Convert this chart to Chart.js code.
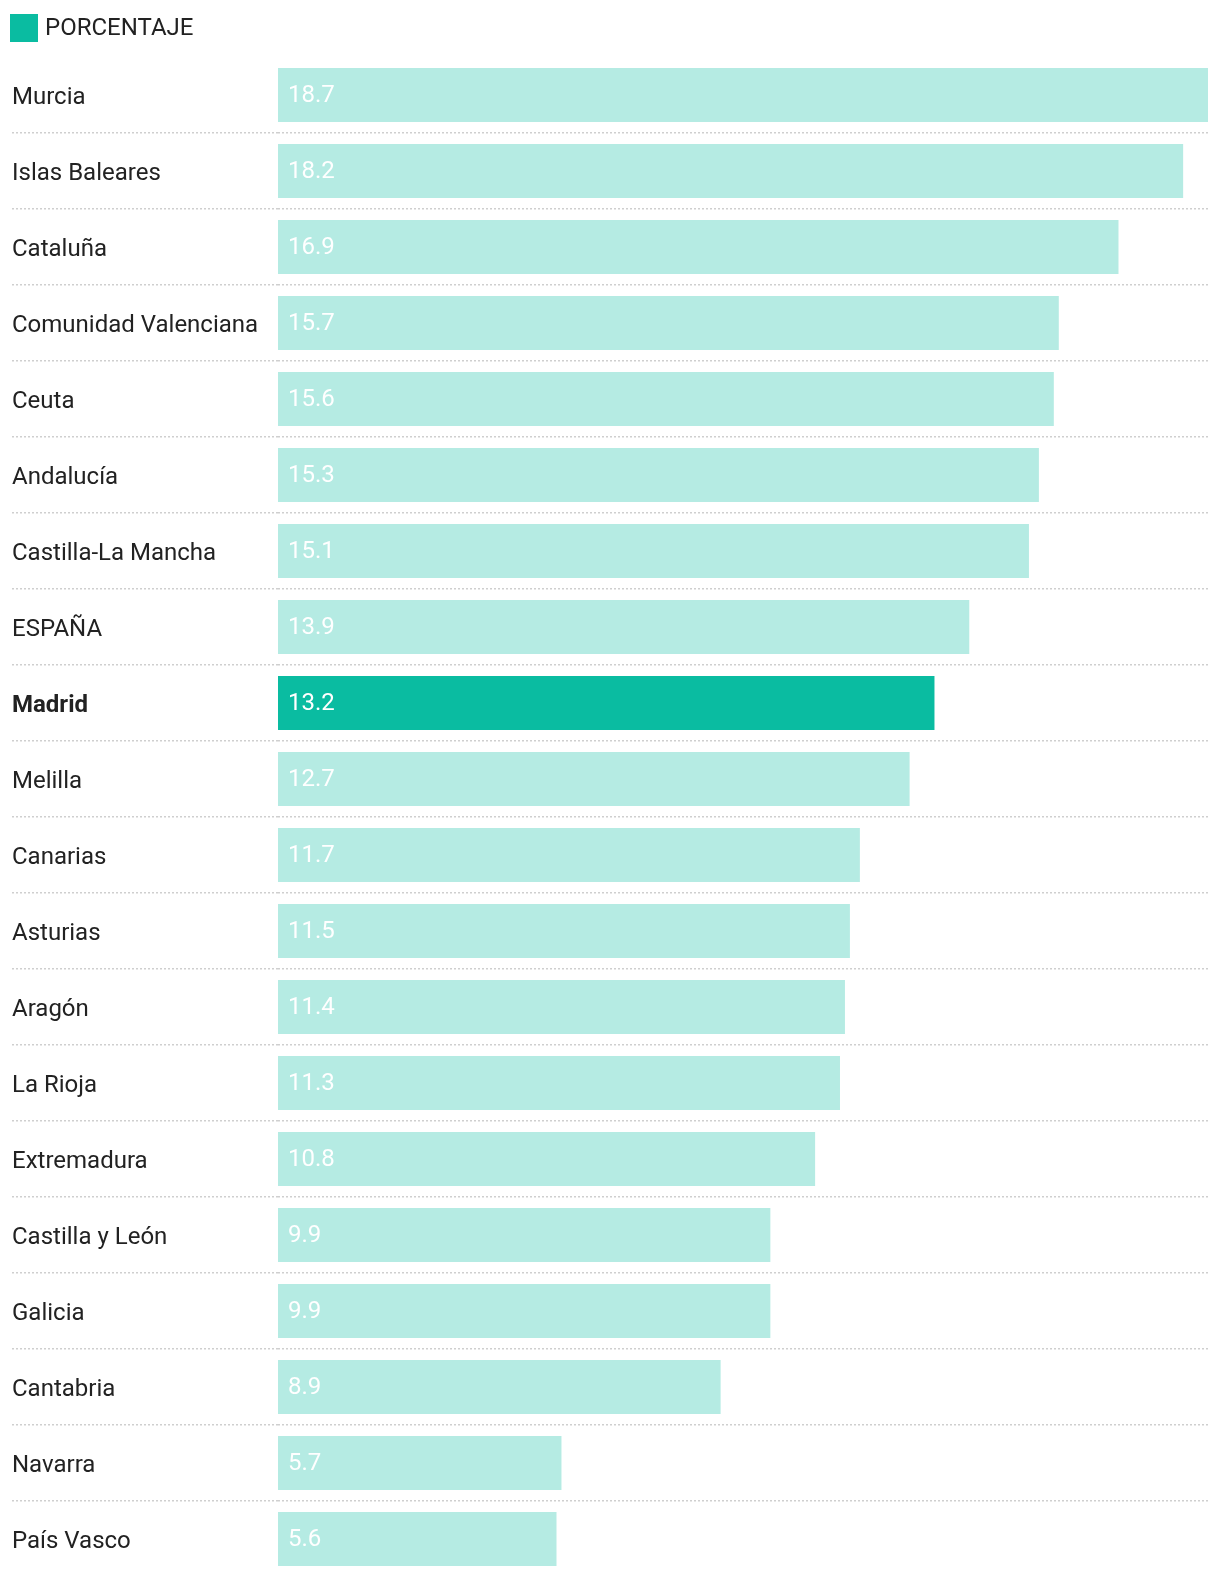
<!DOCTYPE html>
<html>
<head>
<meta charset="utf-8">
<script src="https://cdn.jsdelivr.net/npm/chart.js@4.4.1/dist/chart.umd.min.js"></script>
<style>
    body { margin: 0; background: #fff; }
    #wrap { width: 1220px; height: 1578px; position: relative; }
</style>
</head>
<body>
<div id="wrap"><canvas id="chartPorcentaje"></canvas></div>
<script>
let regiones = ['Murcia', 'Islas Baleares', 'Cataluña', 'Comunidad Valenciana', 'Ceuta', 'Andalucía',
    'Castilla-La Mancha', 'ESPAÑA', 'Madrid', 'Melilla', 'Canarias', 'Asturias', 'Aragón', 'La Rioja',
    'Extremadura', 'Castilla y León', 'Galicia', 'Cantabria', 'Navarra', 'País Vasco'];
let porcentaje = [18.7, 18.2, 16.9, 15.7, 15.6, 15.3, 15.1, 13.9, 13.2, 12.7, 11.7, 11.5, 11.4, 11.3,
    10.8, 9.9, 9.9, 8.9, 5.7, 5.6];
let destacada = 'Madrid';
let nombreSerie = 'PORCENTAJE';

let verde = 'rgb(10, 188, 161)';
let verdeClaro = 'rgba(10, 188, 161, 0.3)';
let fuente = 'Roboto';
let gris = '#cfcfcf';

// valores dentro de cada barra
let etiquetasValor = {
    id: 'etiquetasValor',
    afterDatasetsDraw(chart) {
        let ctx = chart.ctx;
        let meta = chart.getDatasetMeta(0);
        ctx.save();
        ctx.font = '24px ' + fuente;
        ctx.fillStyle = '#fff';
        ctx.textAlign = 'left';
        ctx.textBaseline = 'middle';
        meta.data.forEach((bar, i) => {
            let v = chart.data.datasets[0].data[i];
            ctx.fillText(v.toFixed(1), bar.base + 10, bar.y + 1);
        });
        ctx.restore();
    }
};

// leyenda arriba a la izquierda
let leyenda = {
    id: 'leyenda',
    afterDraw(chart) {
        let ctx = chart.ctx;
        ctx.save();
        ctx.fillStyle = verde;
        ctx.fillRect(10, 14, 28, 28);
        ctx.fillStyle = '#222';
        ctx.font = '24px ' + fuente;
        ctx.textAlign = 'left';
        ctx.textBaseline = 'middle';
        ctx.fillText(nombreSerie, 45, 29);
        ctx.restore();
    }
};

let contextPorcentaje = document.querySelector('#chartPorcentaje').getContext('2d');

// sin linea arriba del todo ni abajo del todo
let ocultarBordes = (c) => (c.index === undefined || c.index == 0 || c.index >= regiones.length) ? 'rgba(0,0,0,0)' : gris;

let config = {
    type: 'bar',
    data: {
        labels: regiones,
        datasets: [{
            label: nombreSerie,
            data: porcentaje,
            backgroundColor: regiones.map(r => r == destacada ? verde : verdeClaro),
            categoryPercentage: 1,
            barPercentage: 54 / 76
        }]
    },
    options: {
        indexAxis: 'y',
        responsive: true,
        maintainAspectRatio: false,
        animation: false,
        layout: {
            padding: { left: 12, right: 12, top: 57, bottom: 1 }
        },
        plugins: {
            tooltip: { enabled: false },
            legend: { display: false }
        },
        scales: {
            x: {
                display: false,
                min: 0,
                max: 18.7
            },
            y: {
                afterFit: (scale) => {
                    scale.width = 266;
                    scale.paddingTop = 0;
                    scale.paddingBottom = 0;
                },
                grid: {
                    offset: true,
                    drawOnChartArea: true,
                    color: ocultarBordes,
                    tickColor: ocultarBordes,
                    lineWidth: 1.5,
                    tickWidth: 1.5,
                    tickLength: 266,
                    tickBorderDash: [2, 2]
                },
                border: { display: false, dash: [2, 2] },
                ticks: {
                    crossAlign: 'far',
                    padding: 0,
                    labelOffset: 3,
                    color: '#222',
                    font: (c) => ({
                        family: fuente,
                        size: 24,
                        weight: regiones[c.index] == destacada ? 'bold' : 'normal'
                    })
                }
            }
        }
    },
    plugins: [etiquetasValor, leyenda]
};

let chartPorcentaje = new Chart(contextPorcentaje, config);
</script>
</body>
</html>
